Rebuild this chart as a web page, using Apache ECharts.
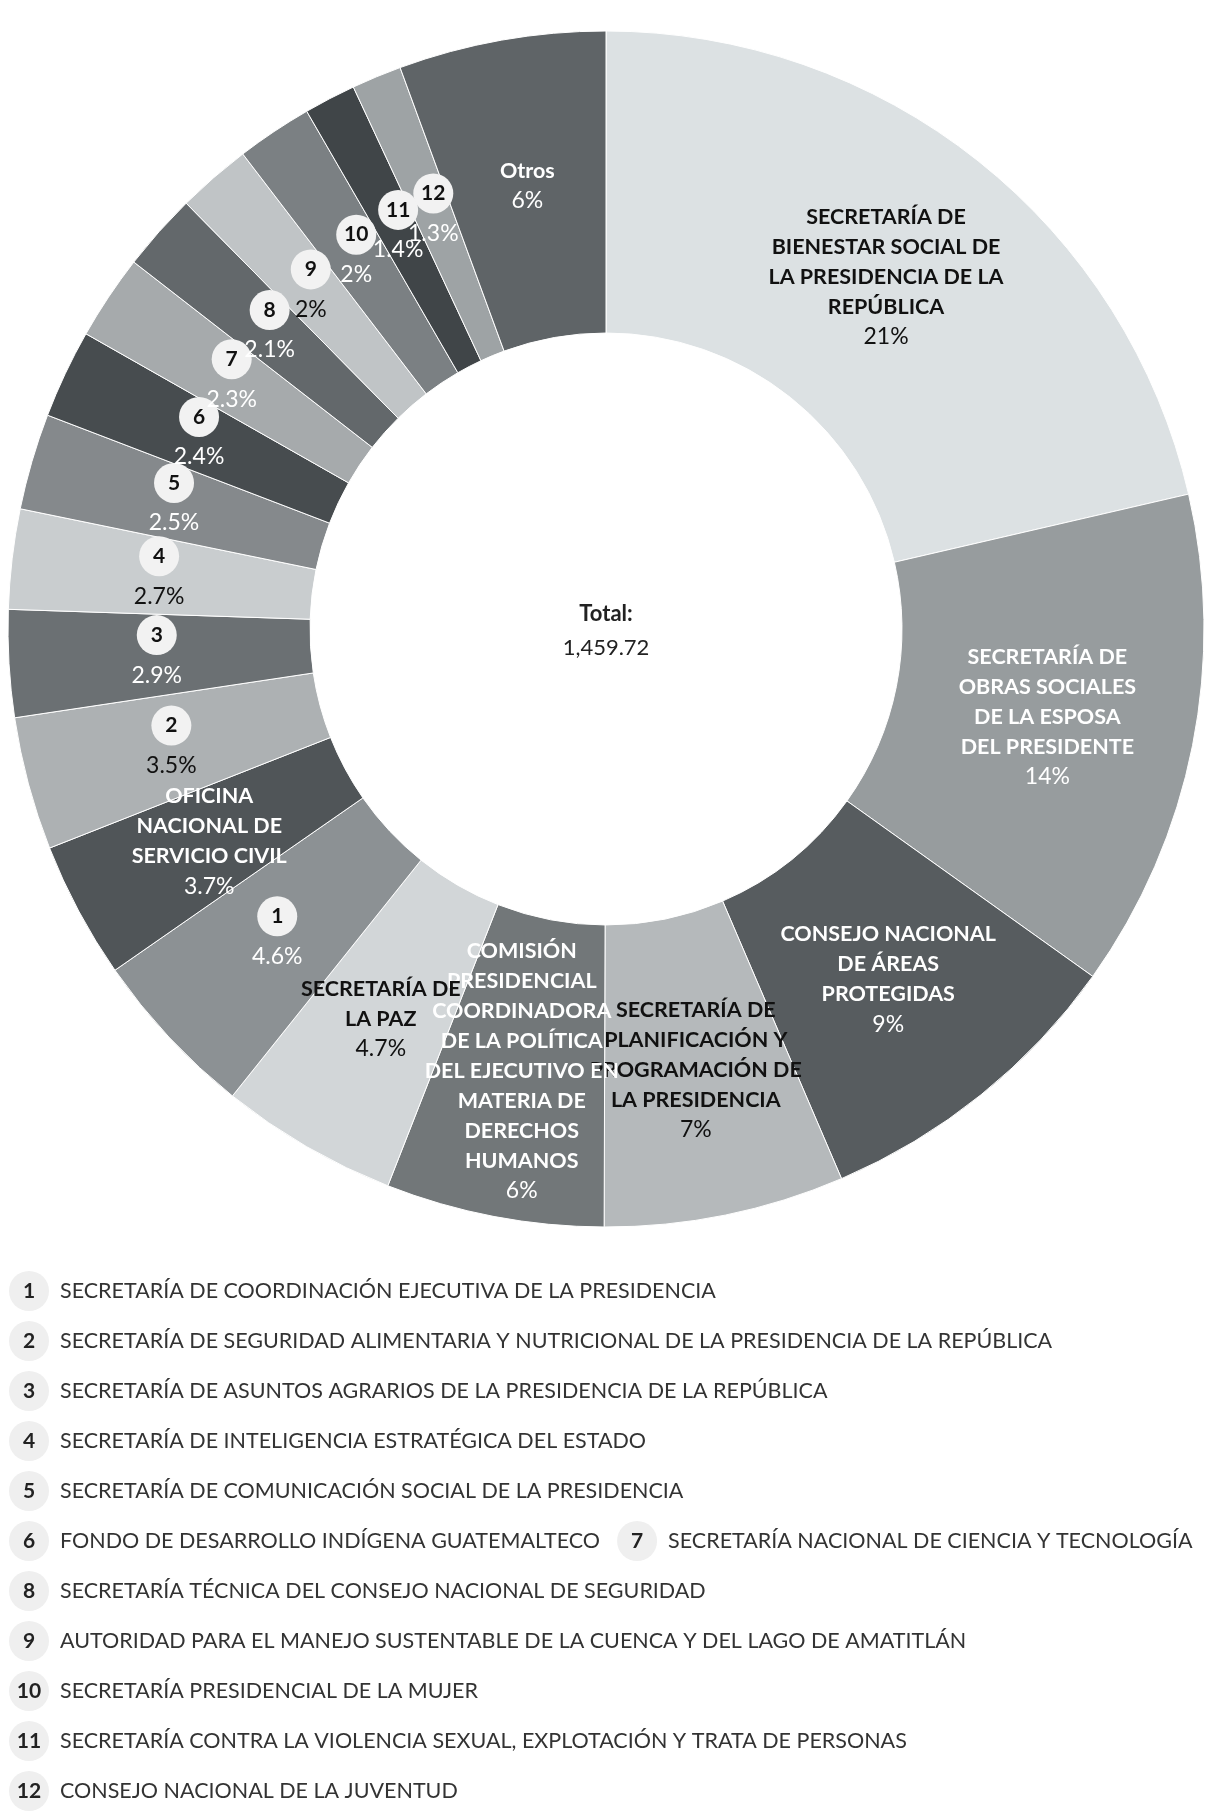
<!DOCTYPE html>
<html>
<head>
<meta charset="utf-8">
<script src="https://cdn.jsdelivr.net/npm/echarts@6/dist/echarts.min.js"></script>
<style>
html,body{margin:0;padding:0;background:#ffffff;}
#chart{width:1220px;height:1820px;}
</style>
</head>
<body>
<div id="chart"></div>
<script>
// Slices, clockwise from 12 o'clock (line breaks = label wrapping in the donut)
const slices = [
  'SECRETARÍA DE\nBIENESTAR SOCIAL DE\nLA PRESIDENCIA DE LA\nREPÚBLICA',
  'SECRETARÍA DE\nOBRAS SOCIALES\nDE LA ESPOSA\nDEL PRESIDENTE',
  'CONSEJO NACIONAL\nDE ÁREAS\nPROTEGIDAS',
  'SECRETARÍA DE\nPLANIFICACIÓN Y\nPROGRAMACIÓN DE\nLA PRESIDENCIA',
  'COMISIÓN\nPRESIDENCIAL\nCOORDINADORA\nDE LA POLÍTICA\nDEL EJECUTIVO EN\nMATERIA DE\nDERECHOS\nHUMANOS',
  'SECRETARÍA DE\nLA PAZ',
  'SECRETARÍA DE COORDINACIÓN EJECUTIVA DE LA PRESIDENCIA',
  'OFICINA\nNACIONAL DE\nSERVICIO CIVIL',
  'SECRETARÍA DE SEGURIDAD ALIMENTARIA Y NUTRICIONAL DE LA PRESIDENCIA DE LA REPÚBLICA',
  'SECRETARÍA DE ASUNTOS AGRARIOS DE LA PRESIDENCIA DE LA REPÚBLICA',
  'SECRETARÍA DE INTELIGENCIA ESTRATÉGICA DEL ESTADO',
  'SECRETARÍA DE COMUNICACIÓN SOCIAL DE LA PRESIDENCIA',
  'FONDO DE DESARROLLO INDÍGENA GUATEMALTECO',
  'SECRETARÍA NACIONAL DE CIENCIA Y TECNOLOGÍA',
  'SECRETARÍA TÉCNICA DEL CONSEJO NACIONAL DE SEGURIDAD',
  'AUTORIDAD PARA EL MANEJO SUSTENTABLE DE LA CUENCA Y DEL LAGO DE AMATITLÁN',
  'SECRETARÍA PRESIDENCIAL DE LA MUJER',
  'SECRETARÍA CONTRA LA VIOLENCIA SEXUAL, EXPLOTACIÓN Y TRATA DE PERSONAS',
  'CONSEJO NACIONAL DE LA JUVENTUD',
  'Otros'
];
// Share of total (percent)
const shares = [21.4, 13.5, 8.7, 6.5, 5.9, 4.8, 4.6, 3.7, 3.6, 2.9, 2.7, 2.6, 2.4, 2.3, 2.1, 2.0, 2.05, 1.4, 1.35, 5.6];
// Percentage labels as printed on the chart
const pctLabels = ['21%', '14%', '9%', '7%', '6%', '4.7%', '4.6%', '3.7%', '3.5%', '2.9%', '2.7%', '2.5%',
  '2.4%', '2.3%', '2.1%', '2%', '2%', '1.4%', '1.3%', '6%'];
// Number badges for slices listed in the legend
const badges = ['', '', '', '', '', '', '1', '', '2', '3', '4', '5', '6', '7', '8', '9', '10', '11', '12', ''];
const totalTitle = 'Total:';
const totalValue = '1,459.72';
const legendRows = [['1'], ['2'], ['3'], ['4'], ['5'], ['6', '7'], ['8'], ['9'], ['10'], ['11'], ['12']];

const colors = ['#dce1e3', '#979c9e', '#575c5f', '#b5b9bb', '#727779', '#d2d6d8', '#8c9194',
  '#505558', '#adb1b3', '#6b7073', '#c9cdcf', '#85898c', '#474c4f', '#a6aaac', '#63686b',
  '#c0c4c6', '#7b8083', '#404548', '#9ea3a5', '#5f6467'];

const FONT = 'Lato';
const FS = 21.5;
function lum(hex) {
  const r = parseInt(hex.substr(1, 2), 16), g = parseInt(hex.substr(3, 2), 16), b = parseInt(hex.substr(5, 2), 16);
  return (r + g + b) / 3;
}

const pieData = slices.map((n, i) => ({
  name: n,
  value: shares[i],
  itemStyle: { color: colors[i] },
  label: { color: lum(colors[i]) > 170 ? '#111111' : '#ffffff' }
}));

const chart = echarts.init(document.getElementById('chart'), null, { renderer: 'canvas' });

const legendRich = {
  n: { width: 40, height: 40, lineHeight: 40, borderRadius: 20, backgroundColor: '#efefef',
       fontFamily: FONT, fontWeight: 'bold', fontSize: 21, color: '#222', align: 'center' },
  t: { fontFamily: FONT, fontSize: FS, color: '#333', padding: [0, 0, 0, 11] }
};

const legends = legendRows.map((row, r) => ({
  data: row.map(b => slices[badges.indexOf(b)]),
  top: 1271 + r * 50,
  left: 4,
  width: 1216,
  padding: 0,
  orient: 'horizontal',
  icon: 'none',
  itemWidth: 0,
  itemHeight: 40,
  itemGap: 12,
  selectedMode: false,
  formatter: name => '{n|' + badges[slices.indexOf(name)] + '}{t|' + name + '}',
  textStyle: { fontFamily: FONT, rich: legendRich }
}));

chart.setOption({
  animation: false,
  backgroundColor: '#ffffff',
  legend: legends,
  graphic: [{
    type: 'text',
    x: 606,
    y: 631,
    style: {
      text: '{b|' + totalTitle + '}\n{v|' + totalValue + '}',
      align: 'center',
      verticalAlign: 'middle',
      rich: {
        b: { fontFamily: FONT, fontWeight: 'bold', fontSize: 22, lineHeight: 34, fill: '#222' },
        v: { fontFamily: FONT, fontSize: 22, lineHeight: 34, fill: '#222' }
      }
    }
  }],
  series: [{
    type: 'pie',
    center: [606, 629],
    radius: [296, 598],
    startAngle: 90,
    clockwise: true,
    avoidLabelOverlap: false,
    itemStyle: { borderColor: '#ffffff', borderWidth: 1 },
    labelLayout: { hideOverlap: false },
    label: {
      show: true,
      position: 'inside',
      align: 'center',
      fontFamily: FONT,
      fontSize: FS,
      textBorderWidth: 0,
      formatter: p => {
        const i = p.dataIndex;
        const pct = pctLabels[i];
        if (badges[i]) return '{bd|' + badges[i] + '}\n{pc2|' + pct + '}';
        return slices[i].split('\n').map(l => '{nm|' + l + '}').join('\n') + '\n{pc|' + pct + '}';
      },
      rich: {
        nm: { fontFamily: FONT, fontWeight: 'bold', fontSize: FS, lineHeight: 30 },
        pc: { fontFamily: FONT, fontSize: 23, lineHeight: 30 },
        bd: { width: 40, height: 40, lineHeight: 40, borderRadius: 20, backgroundColor: '#f2f2f2',
              color: '#111111', fontFamily: FONT, fontWeight: 'bold', fontSize: 21, align: 'center' },
        pc2: { fontFamily: FONT, fontSize: 23, lineHeight: 40 }
      }
    },
    labelLine: { show: false },
    emphasis: { disabled: true },
    data: pieData
  }]
});
</script>
</body>
</html>
